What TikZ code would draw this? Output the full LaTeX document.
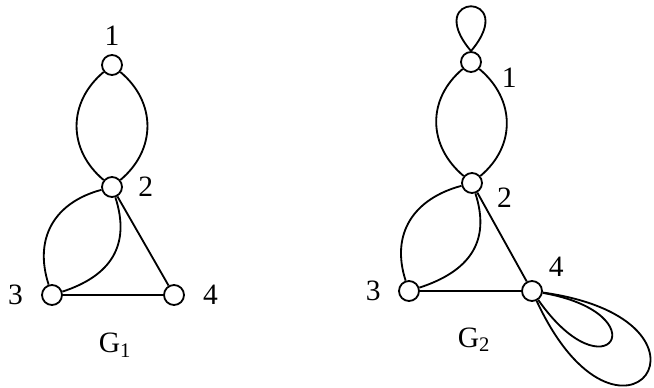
\documentclass[tikz,border=0pt]{standalone}
\usepackage{fontspec}
\setmainfont{Liberation Serif}

\begin{document}
\begin{tikzpicture}[
    line width=1.3pt,
    font=\fontsize{21}{24}\selectfont,
    vert/.style={circle, draw, fill=white, minimum size=0.5cm, inner sep=0pt},
    every label/.style={inner sep=1pt}
  ]
  \useasboundingbox (0,0) rectangle (16.35,9.675);

  % vertices of G1
  \node[vert, label={[label distance=0.16cm]90:1}] (a1) at (2.8,8.05) {};
  \node[vert, label={[label distance=0.33cm]0:2}] (a2) at (2.8,5.0) {};
  \node[vert, label={[label distance=0.4cm]180:3}] (a3) at (1.3,2.3) {};
  \node[vert, label={[label distance=0.4cm]0:4}] (a4) at (4.35,2.3) {};
  \node (g1) at (2.875,1.04) {G\textsubscript{1}};

  % vertices of G2
  \node[vert, label={[label distance=0.45cm]-8:1}] (b1) at (11.775,8.125) {};
  \node[vert, label={[label distance=0.3cm]-7:2}] (b2) at (11.8,5.1) {};
  \node[vert, label={[label distance=0.38cm]180:3}] (b3) at (10.225,2.4) {};
  \node[vert, label={[label distance=0.2cm]40:4}] (b4) at (13.3,2.4) {};
  \node (g2) at (11.85,1.175) {G\textsubscript{2}};

  % edges both graphs share
  \foreach \g in {a,b} {
    \draw (\g1) to[out=-140, in=140, looseness=1.12] (\g2);
    \draw (\g1) to[out=-40, in=40, looseness=1.12] (\g2);
    \draw (\g2) to[out=-165, in=108, looseness=1.15] (\g3);
    \draw (\g2) to[out=-72, in=18, looseness=1.2] (\g3);
    \draw (\g2) -- (\g4);
    \draw (\g3) -- (\g4);
  }

  % loops of G2
  \draw (b1.north) to[out=130, in=50, min distance=1.95cm] (b1.north);
  \draw (b4) to[out=-8, in=-65, min distance=5cm] (b4);
  \draw (b4) to[out=-10, in=-55, min distance=3cm] (b4);
\end{tikzpicture}
\end{document}
